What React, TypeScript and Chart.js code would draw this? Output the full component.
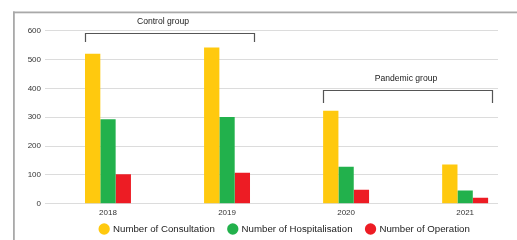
import React, { useEffect, useRef } from 'react';
import { Chart, registerables } from 'chart.js';

Chart.register(...registerables);

// ---- data ----
const years = [2018, 2019, 2020, 2021];
const consultation = [520, 542, 322, 136];
const hospitalisation = [293, 301, 128, 46];
const operation = [102, 107, 48, 21];
const seriesNames = ['Number of Consultation', 'Number of Hospitalisation', 'Number of Operation'];
const yTickStep = 100;
const yMax = 600;
const groupNames = ['Control group', 'Pandemic group'];
const groupFirstYear = [2018, 2020];
const groupLastYear = [2019, 2021];
const groupBracketLevel = [592, 393];

// ---- styles ----
const FONT = "'Liberation Sans', Arial, Helvetica, sans-serif";
const COLORS = ['#FFC90E', '#22B14C', '#ED1C24'];
const LEGEND_FONT = 9.7;
const LEGEND_PAD = 14;

const framePlugin = {
  id: 'frame',
  beforeDraw(chart: any) {
    const ctx = chart.ctx;
    ctx.save();
    ctx.fillStyle = '#a9a9a9';
    ctx.fillRect(13, 11.5, chart.width - 13, 1.8);
    ctx.fillRect(13, 11.5, 1.8, chart.height);
    ctx.restore();
  },
};

const bracketPlugin = {
  id: 'brackets',
  afterDatasetsDraw(chart: any) {
    const xs = chart.scales.x;
    const ys = chart.scales.y;
    const ctx = chart.ctx;
    const drops = [8.5, 12.5];
    const textShift = [-7, -2];
    groupNames.forEach((name, i) => {
      const l = Math.round(xs.getPixelForValue(groupFirstYear[i]) - 23) + 0.5;
      const r = Math.round(xs.getPixelForValue(groupLastYear[i]) + 27) + 0.5;
      const t = Math.round(ys.getPixelForValue(groupBracketLevel[i])) + 0.5;
      ctx.save();
      ctx.strokeStyle = '#555555';
      ctx.lineWidth = 1.2;
      ctx.beginPath();
      ctx.moveTo(l, t + drops[i]);
      ctx.lineTo(l, t);
      ctx.lineTo(r, t);
      ctx.lineTo(r, t + drops[i]);
      ctx.stroke();
      ctx.fillStyle = '#222222';
      ctx.font = `8.6px ${FONT}`;
      ctx.textAlign = 'center';
      ctx.textBaseline = 'middle';
      ctx.fillText(name, (l + r) / 2 + textShift[i], t - 12);
      ctx.restore();
    });
  },
};

const legendShiftPlugin = {
  id: 'legendShift',
  afterLayout(chart: any) {
    const lg = chart.legend;
    if (!lg) return;
    const dx = 285 - (lg.left + lg.right) / 2;
    const dy = 229 - (lg.top + LEGEND_PAD + LEGEND_FONT / 2);
    lg.left += dx;
    lg.right += dx;
    lg.top += dy;
    lg.bottom += dy;
  },
};

export default function App() {
  const ref = useRef<HTMLCanvasElement>(null);

  useEffect(() => {
    document.body.style.margin = '0';
    const datasets = [consultation, hospitalisation, operation].map((vals, i) => ({
      label: seriesNames[i],
      data: years.map((yr, j) => ({ x: yr, y: vals[j] })),
      backgroundColor: COLORS[i],
      borderWidth: 0,
      categoryPercentage: 0.386,
      barPercentage: 1,
    }));

    const chart = new Chart(ref.current as HTMLCanvasElement, {
      type: 'bar',
      data: { datasets },
      plugins: [framePlugin, bracketPlugin, legendShiftPlugin],
      options: {
        animation: false,
        responsive: true,
        maintainAspectRatio: false,
        layout: { padding: { left: 0, right: 19, top: 30.7, bottom: -15.4 } },
        plugins: {
          tooltip: { enabled: false },
          legend: {
            position: 'bottom',
            labels: {
              usePointStyle: true,
              pointStyle: 'circle',
              boxWidth: 8,
              boxHeight: 8,
              padding: LEGEND_PAD,
              color: '#222222',
              font: { family: FONT, size: LEGEND_FONT },
            },
          },
        },
        scales: {
          x: {
            type: 'linear',
            offset: false,
            min: 2017.471,
            max: 2021.276,
            grid: { display: false, drawTicks: false },
            border: { display: false },
            afterBuildTicks: (scale: any) => {
              scale.ticks = years.map((v) => ({ value: v }));
            },
            afterFit: (scale: any) => {
              scale.height = 18;
            },
            ticks: {
              padding: 4.5,
              color: '#333333',
              font: { family: FONT, size: 8 },
              maxRotation: 0,
              autoSkip: false,
              callback: (v: any) => String(v),
            },
          },
          y: {
            min: 0,
            max: yMax,
            afterFit: (scale: any) => {
              scale.width = 45;
            },
            grid: { color: '#dcdcdc', lineWidth: 1, drawTicks: false },
            border: { display: false },
            ticks: {
              stepSize: yTickStep,
              padding: 4,
              color: '#333333',
              font: { family: FONT, size: 8 },
            },
          },
        },
      },
    } as any);
    return () => chart.destroy();
  }, []);

  return (
    <div style={{ width: 517, height: 240, position: 'relative' }}>
      <canvas ref={ref} />
    </div>
  );
}
